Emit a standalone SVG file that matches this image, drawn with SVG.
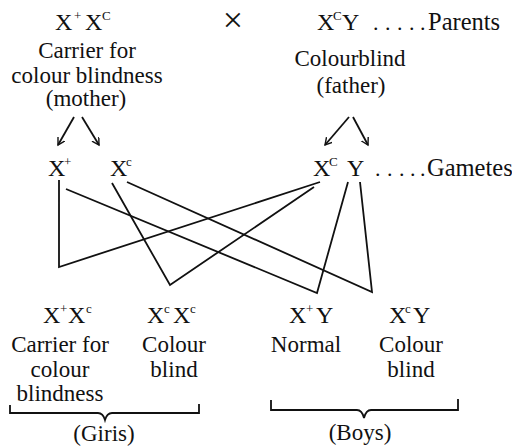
<svg xmlns="http://www.w3.org/2000/svg" width="512" height="448" viewBox="0 0 512 448" font-family="'Liberation Serif', 'DejaVu Serif', serif">
<style>
.lb{font-family:'Liberation Serif','DejaVu Serif',serif;font-size:23px;text-anchor:middle;fill:#111;}
.g{font-family:'Liberation Serif','DejaVu Serif',serif;font-size:24px;fill:#111;}
.s{font-size:13px;}
.sm{font-family:'Liberation Serif','DejaVu Serif',serif;font-size:24.5px;fill:#111;}
.dots{font-family:'Liberation Serif','DejaVu Serif',serif;font-size:22px;fill:#111;}
.ln{fill:none;stroke:#111;stroke-width:1.8;stroke-linejoin:miter;}
.ar{fill:none;stroke:#111;stroke-width:1.8;marker-end:url(#ah);}
</style>
<defs>
<marker id="ah" markerWidth="10" markerHeight="10" refX="7" refY="4" orient="auto" markerUnits="userSpaceOnUse">
<path d="M0,0 L7,4 L0,8" fill="none" stroke="#111" stroke-width="1.4"/>
</marker>
</defs>
<rect width="512" height="448" fill="#fff"/>

<g id="mother">
<text class="g"><tspan x="55" y="30">X</tspan><tspan class="s" x="74" y="20">+</tspan><tspan x="85" y="30">X</tspan><tspan class="s" x="102" y="20">C</tspan></text>
<text class="lb" x="87" y="58">Carrier for</text>
<text class="lb" x="87" y="83">colour blindness</text>
<text class="lb" x="86" y="106">(mother)</text>
</g>

<g id="cross">
<text x="233" y="32" font-family="'Liberation Serif', serif" font-size="36" text-anchor="middle" fill="#111">×</text>
</g>

<g id="father">
<text class="g"><tspan x="317" y="30">X</tspan><tspan class="s" x="333" y="20">C</tspan><tspan x="342" y="30">Y</tspan></text>
<text class="dots" x="373 385 397 409 420" y="30">.....</text>
<text class="sm" x="428" y="30">Parents</text>
<text class="lb" x="350" y="66">Colourblind</text>
<text class="lb" x="351" y="93">(father)</text>
</g>

<g id="gamete-xplus">
<text class="g"><tspan x="48" y="176">X</tspan><tspan class="s" x="64" y="166">+</tspan></text>
</g>
<g id="gamete-xc-mother">
<text class="g"><tspan x="110" y="176">X</tspan><tspan class="s" x="126" y="166">c</tspan></text>
</g>
<g id="gamete-xc-father">
<text class="g"><tspan x="313" y="176">X</tspan><tspan class="s" x="329" y="166">C</tspan></text>
</g>
<g id="gamete-y">
<text class="g" x="347" y="176">Y</text>
<text class="dots" x="375 387 399 410 420" y="176">.....</text>
<text class="sm" x="427" y="176">Gametes</text>
</g>

<g id="child-carrier">
<text class="g"><tspan x="43" y="323">X</tspan><tspan class="s" x="60" y="313">+</tspan><tspan x="68" y="323">X</tspan><tspan class="s" x="86" y="313">c</tspan></text>
<text class="lb" x="60" y="352">Carrier for</text>
<text class="lb" x="60" y="377">colour</text>
<text class="lb" x="60" y="401">blindness</text>
</g>
<g id="child-cb-girl">
<text class="g"><tspan x="147" y="323">X</tspan><tspan class="s" x="164" y="313">c</tspan><tspan x="173" y="323">X</tspan><tspan class="s" x="190" y="313">c</tspan></text>
<text class="lb" x="174" y="352">Colour</text>
<text class="lb" x="174" y="377">blind</text>
</g>
<g id="child-normal">
<text class="g"><tspan x="289" y="323">X</tspan><tspan class="s" x="306" y="313">+</tspan><tspan x="316" y="323">Y</tspan></text>
<text class="lb" x="306" y="352">Normal</text>
</g>
<g id="child-cb-boy">
<text class="g"><tspan x="389" y="323">X</tspan><tspan class="s" x="405" y="313">c</tspan><tspan x="413" y="323">Y</tspan></text>
<text class="lb" x="411" y="352">Colour</text>
<text class="lb" x="411" y="377">blind</text>
</g>

<g id="girls">
<path class="ln" d="M10,405 L10,413 L98,413 Q103,413 105,420 Q107,413 112,413 L199,413 L199,404"/>
<text class="lb" x="104" y="441">(Giris)</text>
</g>
<g id="boys">
<path class="ln" d="M271,400 L271,410 L357,410 Q362,410 364,418 Q366,410 371,410 L458,410 L458,399"/>
<text class="lb" x="360" y="440">(Boys)</text>
</g>

<g id="connectors">
<line class="ar" x1="74" y1="117" x2="58" y2="145"/>
<line class="ar" x1="82" y1="117" x2="99" y2="145"/>
<line class="ar" x1="349" y1="117" x2="325" y2="145"/>
<line class="ar" x1="353" y1="117" x2="368" y2="145"/>
<polyline class="ln" points="59,180 59,267 320,182"/>
<polyline class="ln" points="112,183 170,285 314,187"/>
<polyline class="ln" points="66,189 317,293 348,182"/>
<polyline class="ln" points="127,182 372,292 360,182"/>
</g>
</svg>
